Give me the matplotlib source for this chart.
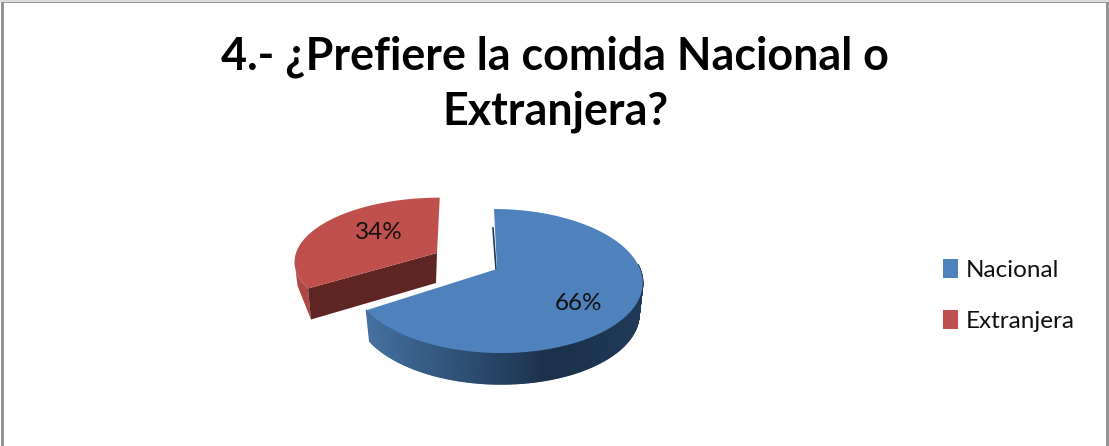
import numpy as np
import matplotlib
matplotlib.use("Agg")
import matplotlib.pyplot as plt
from matplotlib.collections import PolyCollection
from matplotlib.colors import LinearSegmentedColormap
from matplotlib.patches import Patch, Polygon, Rectangle

title = "4.- ¿Prefiere la comida Nacional o\nExtranjera?"
labels = ["Nacional", "Extranjera"]
values = [66, 34]
colors = ["#4f81bd", "#c0504d"]

plt.rcParams["font.family"] = ["Lato", "DejaVu Sans"]

side_cmap = LinearSegmentedColormap.from_list(
    "side", ["#44709f", "#2f5076", "#1b3049", "#1f3a58"])


# pie slice seen from above with a bit of perspective, angles clockwise from 12 o'clock
def rim(cx, cy, rx, ry, k, shear, a0, a1, n=320):
    t = np.radians(np.linspace(a0, a1, n))
    u, v = np.sin(t), -np.cos(t)
    d = 1 - k * v
    py = cy + ry * v / d
    return cx + rx * u / d + shear * (py - cy), py


fig = plt.figure(figsize=(11.09, 4.46), dpi=100)
ax = fig.add_axes([0, 0, 1, 1])
ax.set_xlim(0, 1109)
ax.set_ylim(446, 0)
ax.axis("off")

# chart frame
ax.add_patch(Rectangle((2, 0.5), 1105, 450, fill=False, ec="#8c8c8c", lw=2, zorder=1))
ax.plot([0, 1109], [0.5, 0.5], color="#dcdcdc", lw=1.5, zorder=2)

split = values[0] / sum(values) * 360
depth = 31

# Nacional
bx, by = 497, 269
x, y = rim(bx, by, 143, 70, 0.167, 0.05, 0, split)
low_x = x + (bx - x) * 0.025
front = y > by - 5
quads, shades = [], []
for i in range(len(x) - 1):
    if front[i]:
        quads.append([(x[i], y[i]), (x[i + 1], y[i + 1]),
                      (low_x[i + 1], y[i + 1] + depth), (low_x[i], y[i] + depth)])
        shades.append(side_cmap((x[i] - 368) / 276))
ax.add_collection(PolyCollection(quads, facecolors=shades, edgecolors=shades, lw=1, zorder=3))
ax.add_patch(Polygon(np.c_[np.r_[bx, x], np.r_[by, y]], fc=colors[0], ec="none", zorder=4))
ax.plot([493, 496], [228, 269], color="#1f3a58", lw=1.2, zorder=3)

# Extranjera, pulled out of the pie
rx0, ry0 = 437, 253
xr, yr = rim(rx0, ry0, 141, 62, 0.12, -0.05, split, 360)
edge = np.argmin(xr) + 1
corner = (xr[0] + 3, yr[0] + depth)
bulge = (xr[edge - 1] + 3, yr[edge - 1] + 24)
ax.add_patch(Polygon(np.r_[np.c_[xr[:edge], yr[:edge]], [bulge, corner]],
                     fc="#ad4845", ec="none", zorder=3))
ax.add_patch(Polygon([(rx0, ry0), (xr[0], yr[0]), corner, (rx0 - 1, ry0 + 30)],
                     fc="#5e2523", ec="none", zorder=4))
ax.add_patch(Polygon(np.c_[np.r_[rx0, xr], np.r_[ry0, yr]], fc=colors[1], ec="none", zorder=5))

ax.text(579, 303.5, f"{values[0]}%", ha="center", va="center", fontsize=17.5, color="#111111", zorder=6)
ax.text(379, 232.5, f"{values[1]}%", ha="center", va="center", fontsize=17.5, color="#111111", zorder=6)

ax.text(555, 84, title, ha="center", va="center", fontsize=32.3, fontweight="bold",
        color="black", linespacing=1.37)

handles = [Patch(fc=c, ec="none") for c in colors]
ax.legend(handles, labels, loc="upper left", bbox_to_anchor=(943, 259), bbox_transform=ax.transData,
          frameon=False, fontsize=17.5, handlelength=0.62, handleheight=0.85, handletextpad=0.3,
          labelspacing=1.18, borderaxespad=0, borderpad=0, labelcolor="#111111")

fig.savefig("out.png", dpi=100)
